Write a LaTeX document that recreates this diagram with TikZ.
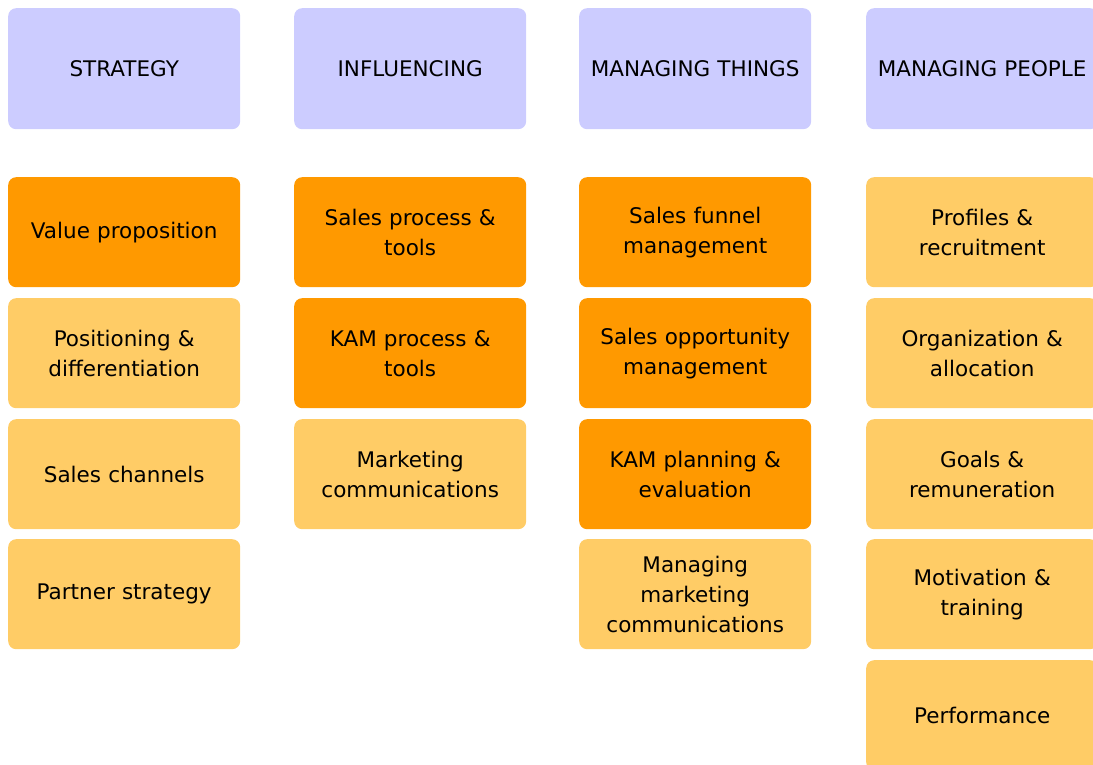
\documentclass[tikz,border=0pt]{standalone}
\usepackage{fontspec}
\setmainfont{DejaVu Sans}
\definecolor{headblue}{HTML}{CCCCFF}
\definecolor{darkorange}{HTML}{FF9900}
\definecolor{lightorange}{HTML}{FFCC66}
\begin{document}
\begin{tikzpicture}[x=1pt,y=-1pt,
        box/.style={anchor=north west,minimum width=232pt,minimum height=110pt,
            text width=228pt,align=center,inner sep=0pt,rounded corners=8pt,
            font=\fontsize{21.5}{30}\selectfont},
        head/.style={box,fill=headblue,minimum height=121pt},
        hot/.style={box,fill=darkorange},
        mild/.style={box,fill=lightorange}]
        \useasboundingbox (0,0) rectangle (1093,765);
        \clip (0,0) rectangle (1093,765);
        % column headings
        \node[head] (strategy) at (8,8) {STRATEGY};
        \node[head] (influencing) at (294,8) {INFLUENCING};
        \node[head] (things) at (579,8) {MANAGING THINGS};
        \node[head] (people) at (866,8) {MANAGING PEOPLE};
        % strategy
        \node[hot] (value) at (8,177) {Value proposition};
        \node[mild] (positioning) at (8,298) {Positioning \&\\differentiation};
        \node[mild] (channels) at (8,419) {Sales channels};
        \node[mild] (partner) at (8,539) {Partner strategy};
        % influencing
        \node[hot] (salesproc) at (294,177) {Sales process \&\\tools};
        \node[hot] (kamproc) at (294,298) {KAM process \&\\tools};
        \node[mild] (marcom) at (294,419) {Marketing\\communications};
        % managing things
        \node[hot] (funnel) at (579,177) {Sales funnel\\management};
        \node[hot] (opportunity) at (579,298) {Sales opportunity\\management};
        \node[hot] (kamplan) at (579,419) {KAM planning \&\\evaluation};
        \node[mild] (managemarcom) at (579,539) {Managing\\marketing\\communications};
        % managing people
        \node[mild] (profiles) at (866,177) {Profiles \&\\recruitment};
        \node[mild] (organization) at (866,298) {Organization \&\\allocation};
        \node[mild] (goals) at (866,419) {Goals \&\\remuneration};
        \node[mild] (motivation) at (866,539) {Motivation \&\\training};
        \node[mild] (performance) at (866,660) {Performance};
\end{tikzpicture}
\end{document}
